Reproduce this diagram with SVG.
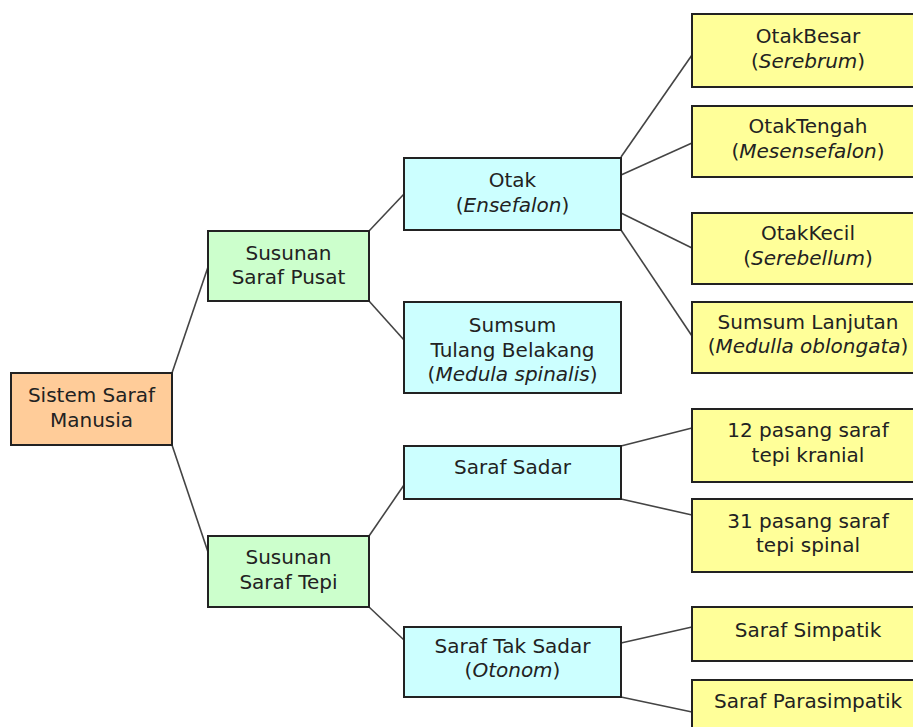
<svg xmlns="http://www.w3.org/2000/svg" width="913" height="727" viewBox="0 0 913 727">
<style>
  .box { stroke: #222; stroke-width: 2; }
  .root { fill: #FFCC99; }
  .l1 { fill: #CCFFCC; }
  .l2 { fill: #CCFFFF; }
  .l3 { fill: #FFFF99; }
  text { font-family: "DejaVu Sans", Verdana, sans-serif; font-size: 20px; fill: #222; text-anchor: middle; }
  .it { font-style: italic; }
  .conn line { stroke: #444; stroke-width: 1.6; }
</style>
<rect width="913" height="727" fill="#ffffff"/>
<g id="connectors" class="conn">
  <line x1="172" y1="373" x2="208" y2="267"/>
  <line x1="172" y1="445" x2="208" y2="552"/>
  <line x1="369" y1="231" x2="404" y2="194"/>
  <line x1="369" y1="301" x2="404" y2="340"/>
  <line x1="621" y1="157" x2="692" y2="55"/>
  <line x1="621" y1="175" x2="692" y2="143"/>
  <line x1="621" y1="213" x2="692" y2="248"/>
  <line x1="621" y1="230" x2="692" y2="336"/>
  <line x1="369" y1="536" x2="404" y2="485"/>
  <line x1="369" y1="607" x2="404" y2="640"/>
  <line x1="621" y1="446" x2="692" y2="428"/>
  <line x1="621" y1="499" x2="692" y2="515"/>
  <line x1="621" y1="643" x2="692" y2="627"/>
  <line x1="621" y1="697" x2="692" y2="712"/>
</g>
<g id="root">
  <rect class="box root" x="11" y="373" width="161" height="72"/>
  <text x="91.5" y="402">Sistem Saraf</text>
  <text x="91.5" y="426.5">Manusia</text>
</g>
<g id="pusat">
  <rect class="box l1" x="208" y="231" width="161" height="70"/>
  <text x="288.5" y="260">Susunan</text>
  <text x="288.5" y="284">Saraf Pusat</text>
</g>
<g id="tepi">
  <rect class="box l1" x="208" y="536" width="161" height="71"/>
  <text x="288.5" y="564">Susunan</text>
  <text x="288.5" y="588.5">Saraf Tepi</text>
</g>
<g id="otak">
  <rect class="box l2" x="404" y="158" width="217" height="72"/>
  <text x="512.5" y="187">Otak</text>
  <text x="512.5" y="211.5">(<tspan class="it">Ensefalon</tspan>)</text>
</g>
<g id="sumsum-tulang">
  <rect class="box l2" x="404" y="302" width="217" height="91"/>
  <text x="512.5" y="332">Sumsum</text>
  <text x="512.5" y="356.5">Tulang Belakang</text>
  <text x="512.5" y="381">(<tspan class="it">Medula spinalis</tspan>)</text>
</g>
<g id="saraf-sadar">
  <rect class="box l2" x="404" y="446" width="217" height="53"/>
  <text x="512.5" y="474">Saraf Sadar</text>
</g>
<g id="saraf-tak-sadar">
  <rect class="box l2" x="404" y="627" width="217" height="70"/>
  <text x="512.5" y="653">Saraf Tak Sadar</text>
  <text x="512.5" y="677">(<tspan class="it">Otonom</tspan>)</text>
</g>
<g id="otak-besar">
  <rect class="box l3" x="692" y="14" width="232" height="73"/>
  <text x="808" y="43">OtakBesar</text>
  <text x="808" y="67.5">(<tspan class="it">Serebrum</tspan>)</text>
</g>
<g id="otak-tengah">
  <rect class="box l3" x="692" y="106" width="232" height="71"/>
  <text x="808" y="133">OtakTengah</text>
  <text x="808" y="157.5">(<tspan class="it">Mesensefalon</tspan>)</text>
</g>
<g id="otak-kecil">
  <rect class="box l3" x="692" y="213" width="232" height="71"/>
  <text x="808" y="240">OtakKecil</text>
  <text x="808" y="264.5">(<tspan class="it">Serebellum</tspan>)</text>
</g>
<g id="sumsum-lanjutan">
  <rect class="box l3" x="692" y="302" width="232" height="71"/>
  <text x="808" y="328.5">Sumsum Lanjutan</text>
  <text x="808" y="352.5">(<tspan class="it">Medulla oblongata</tspan>)</text>
</g>
<g id="kranial">
  <rect class="box l3" x="692" y="409" width="232" height="73"/>
  <text x="808" y="437">12 pasang saraf</text>
  <text x="808" y="462">tepi kranial</text>
</g>
<g id="spinal">
  <rect class="box l3" x="692" y="499" width="232" height="73"/>
  <text x="808" y="528">31 pasang saraf</text>
  <text x="808" y="552">tepi spinal</text>
</g>
<g id="simpatik">
  <rect class="box l3" x="692" y="607" width="232" height="54"/>
  <text x="808" y="637">Saraf Simpatik</text>
</g>
<g id="parasimpatik">
  <rect class="box l3" x="692" y="680" width="232" height="60"/>
  <text x="808" y="708">Saraf Parasimpatik</text>
</g>
</svg>
